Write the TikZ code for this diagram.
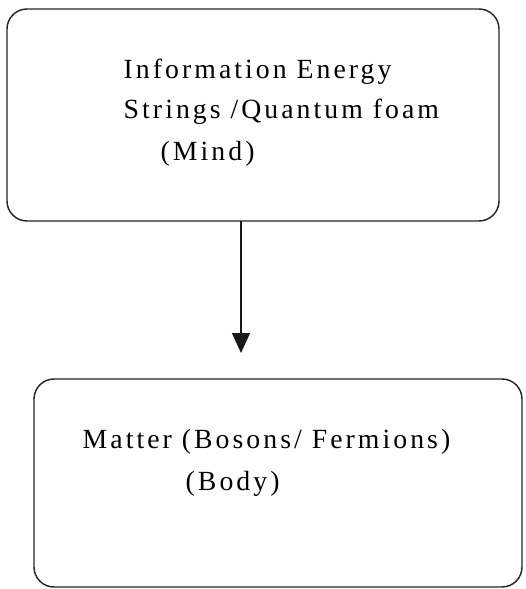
\documentclass[tikz,border=0pt]{standalone}
\usepackage{fontspec}
\setmainfont{Liberation Serif}[LetterSpace=11]
\usetikzlibrary{arrows.meta}
\begin{document}
\begin{tikzpicture}[x=0.75pt,y=-0.75pt,line width=1.1pt,
  box/.style={draw=black!85, rounded corners=15pt, inner sep=0pt, outer sep=0pt},
  txt/.style={anchor=base west, inner sep=0pt, font=\fontsize{20.8pt}{24pt}\selectfont}]
\useasboundingbox (0,0) rectangle (525,589);
% the two boxes
\node[box, minimum width=369pt, minimum height=159pt] (mind) at (253,115) {};
\node[box, minimum width=366pt, minimum height=156pt] (body) at (278,483) {};
% texts
\node[txt] (m1) at (123,78) {Information Energy};
\node[txt] (m2) at (123,118) {Strings /Quantum foam};
\node[txt] (m3) at (160,160) {(Mind)};
\node[txt] (b1) at (82,448) {Matter (Bosons/ Fermions)};
\node[txt] (b2) at (185,490) {(Body)};
% arrow
\coordinate (tip) at (241,353);
\draw[black!90, -{Triangle[length=15pt,width=13.5pt]}] (mind.south -| tip) -- (tip);
\end{tikzpicture}
\end{document}
